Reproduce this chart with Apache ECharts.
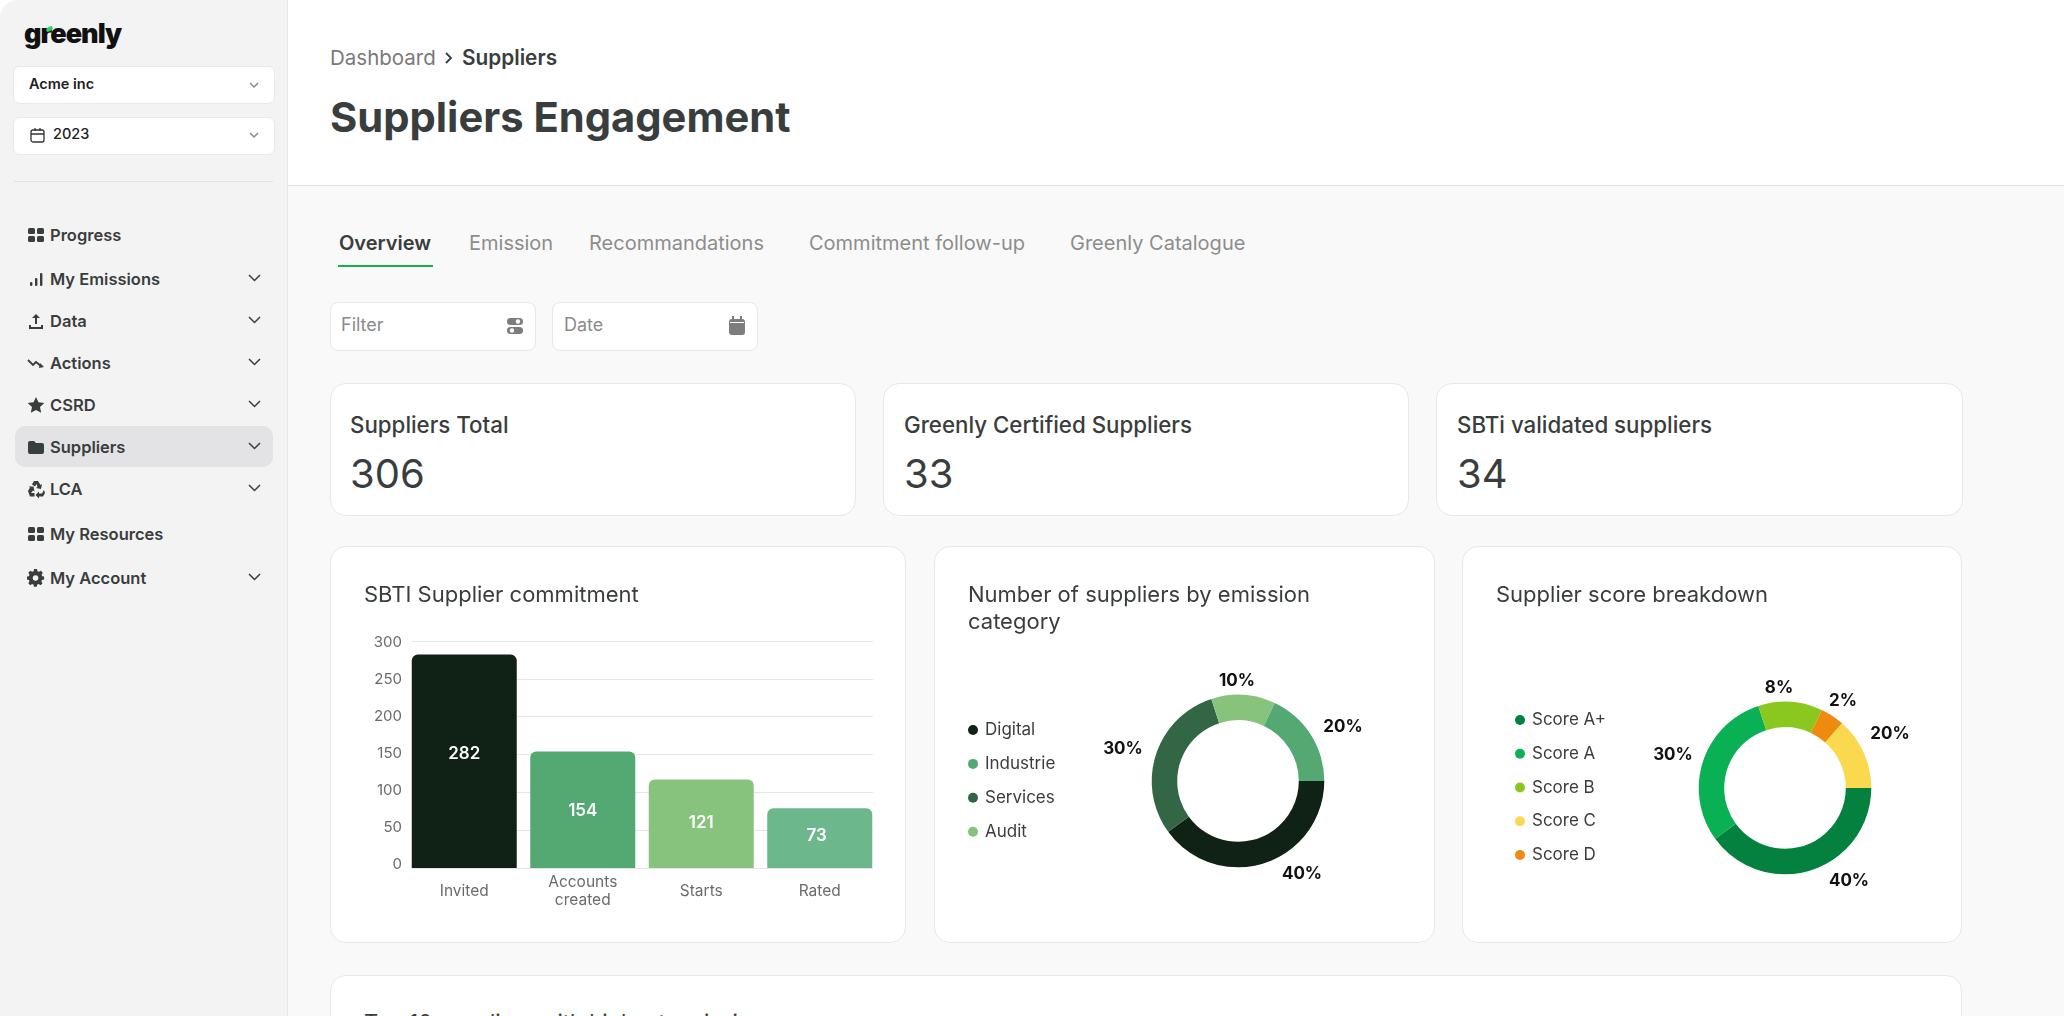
<!DOCTYPE html>
<html>
<head>
<meta charset="utf-8">
<title>Suppliers Engagement</title>
<script src="https://cdn.jsdelivr.net/npm/echarts@6/dist/echarts.min.js"></script>
<style>
    html, body { margin: 0; width: 2064px; height: 1016px; overflow: hidden; background: #fff; }
    body { font-family: Inter, sans-serif; color: #3a3d3e; position: relative; }
    .abs, .t { position: absolute; }
    .t { white-space: nowrap; line-height: 1; transform: translateY(-50%); }
    .sidebar { left: 0; top: 0; width: 287px; height: 1016px; background: #f3f3f3; border-right: 1px solid #e8e8e8; border-top-left-radius: 18px; }
    .main { left: 288px; top: 186px; width: 1776px; height: 830px; background: #f9f9f9; }
    .hline { background: #e2e2e2; height: 1px; }
    .select { left: 13px; width: 260px; height: 36px; background: #fff; border: 1px solid #e9e9e9; border-radius: 7px; }
    .active { left: 15px; top: 426px; width: 258px; height: 41px; background: #e3e3e5; border-radius: 10px; }
    .menu { left: 50px; font-size: 16.5px; font-weight: 600; }
    .tab { top: 243px; font-size: 20px; color: #8d8d8d; }
    .input { top: 302px; width: 204px; height: 47px; background: #fff; border: 1px solid #e8e8e8; border-radius: 8px; }
    .hint { top: 325px; font-size: 18px; color: #8b8b8b; }
    .card { background: #fff; border: 1px solid #e8e8e8; border-radius: 16px; box-sizing: border-box; }
    .kpi-title { top: 425px; font-size: 22.300px; font-weight: 500; }
    .kpi-value { top: 474px; font-size: 40px; }
    .card-title { font-size: 22px; line-height: 27px; white-space: normal; }
    .chart { left: 0; top: 0; width: 100%; height: 100%; }
</style>
</head>
<body>
<div class="abs main"></div>
<div class="abs sidebar"></div>

<div class="t" style="left:24px;top:33px;font-size:27px;font-weight:900;letter-spacing:-1px;color:#111;">greenly</div>
<div class="abs" style="left:46px;top:27px;width:7px;height:4px;background:#2bd45f;border-radius:4px 1px;transform:rotate(-25deg);"></div>

<div class="abs select" style="top:66px;"></div>
<div class="t" style="left:29px;top:84px;font-size:14.5px;font-weight:600;color:#222;">Acme inc</div>
<div class="abs select" style="top:117px;"></div>
<div class="t" style="left:53px;top:134px;font-size:14.5px;font-weight:500;color:#222;">2023</div>
<div class="abs hline" style="left:14px;top:181px;width:259px;"></div>
<div class="abs active"></div>

<div class="abs hline" style="left:288px;top:185px;width:1776px;"></div>
<div class="t" style="left:330px;top:58px;font-size:20.500px;color:#7a7a7a;">Dashboard</div>
<div class="t" style="left:462px;top:58px;font-size:20.800px;font-weight:600;">Suppliers</div>
<div class="t" style="left:330px;top:118px;font-size:41.700px;font-weight:700;">Suppliers Engagement</div>

<div class="t tab" style="left:339px;color:#3a3d3e;font-weight:600;">Overview</div>
<div class="t tab" style="left:469px;">Emission</div>
<div class="t tab" style="left:589px;">Recommandations</div>
<div class="t tab" style="left:809px;">Commitment follow-up</div>
<div class="t tab" style="left:1070px;">Greenly Catalogue</div>
<div class="abs" style="left:338px;top:265px;width:95px;height:2px;background:#16b04d;"></div>

<div class="abs input" style="left:330px;"></div>
<div class="t hint" style="left:341px;">Filter</div>
<div class="abs input" style="left:552px;"></div>
<div class="t hint" style="left:564px;">Date</div>

<div class="abs card" style="left:330px;top:383px;width:526px;height:133px;"></div>
<div class="t kpi-title" style="left:350px;">Suppliers Total</div>
<div class="t kpi-value" style="left:350px;">306</div>
<div class="abs card" style="left:883px;top:383px;width:526px;height:133px;"></div>
<div class="t kpi-title" style="left:904px;">Greenly Certified Suppliers</div>
<div class="t kpi-value" style="left:904px;">33</div>
<div class="abs card" style="left:1436px;top:383px;width:527px;height:133px;"></div>
<div class="t kpi-title" style="left:1457px;">SBTi validated suppliers</div>
<div class="t kpi-value" style="left:1457px;">34</div>

<div class="abs card" style="left:330px;top:546px;width:576px;height:397px;">
    <div id="chartBar" class="abs chart"></div>
    <div class="abs card-title" style="left:33px;top:34px;">SBTI Supplier commitment</div>
</div>
<div class="abs card" style="left:934px;top:546px;width:501px;height:397px;">
    <div id="chartCategory" class="abs chart"></div>
    <div class="abs card-title" style="left:33px;top:34px;width:420px;">Number of suppliers by emission category</div>
</div>
<div class="abs card" style="left:1462px;top:546px;width:500px;height:397px;">
    <div id="chartScore" class="abs chart"></div>
    <div class="abs card-title" style="left:33px;top:34px;">Supplier score breakdown</div>
</div>

<div class="abs card" style="left:330px;top:975px;width:1632px;height:80px;">
    <div class="abs card-title" style="left:33px;top:33px;white-space:nowrap;">Top 10 suppliers with highest emissions</div>
</div>

<div id="menu"></div>

<script>
    // sidebar
    var menuItems = ['Progress', 'My Emissions', 'Data', 'Actions', 'CSRD', 'Suppliers', 'LCA', 'My Resources', 'My Account'];
    var menuRows = [235, 279, 321, 363, 405, 447, 489, 534, 578];
    var menuHasChevron = [false, true, true, true, true, true, true, false, true];

    // SBTI Supplier commitment
    var barCategories = ['Invited', 'Accounts\ncreated', 'Starts', 'Rated'];
    var barHeights = [282, 154, 117, 79];   // the drawn bars do not quite agree with their labels
    var barLabels = [282, 154, 121, 73];
    var barColors = ['#102116', '#54a872', '#88c37e', '#6db78c'];

    // Number of suppliers by emission category, clockwise from 3 o'clock
    var categoryNames = ['Digital', 'Services', 'Audit', 'Industrie'];
    var categoryShares = [40, 30, 12, 18];
    var categoryLabels = ['40%', '30%', '10%', '20%'];
    var categoryColors = ['#102116', '#336645', '#88c37e', '#54a872'];
    var categoryLegend = ['Digital', 'Industrie', 'Services', 'Audit'];

    // Supplier score breakdown, clockwise from 3 o'clock
    var scoreNames = ['Score A+', 'Score A', 'Score B', 'Score D', 'Score C'];
    var scoreShares = [40, 30, 12, 4.5, 13.5];
    var scoreLabels = ['40%', '30%', '8%', '2%', '20%'];
    var scoreColors = ['#04803f', '#0ab154', '#8ac71f', '#ee8a10', '#fbd94f'];
    var scoreLegend = ['Score A+', 'Score A', 'Score B', 'Score C', 'Score D'];

    // little svg icons, nothing fancy
    var gridIcon = '<rect x="1" y="2" width="7" height="6" rx="1.5"/><rect x="10" y="2" width="7" height="6" rx="1.5"/><rect x="1" y="10" width="7" height="6" rx="1.5"/><rect x="10" y="10" width="7" height="6" rx="1.5"/>';
    var icons = {
        'Progress': gridIcon,
        'My Emissions': '<rect x="3" y="12" width="2.4" height="4" rx="1"/><rect x="8" y="8" width="2.4" height="8" rx="1"/><rect x="13" y="3" width="2.4" height="13" rx="1"/>',
        'Data': '<path d="M9 2l4 4h-3v6H8V6H5zM2 13h2v2h10v-2h2v4H2z"/>',
        'Actions': '<path d="M1 6l5 5 3-3 5 4" fill="none" stroke="#3a3d3e" stroke-width="1.8"/><path d="M13 9l4 4-5 1z"/>',
        'CSRD': '<path d="M9 1l2.5 5.3 5.8.7-4.3 4 1.2 5.8L9 14l-5.2 2.8L5 11 .7 7l5.8-.7z"/>',
        'Suppliers': '<path d="M1 5a2 2 0 0 1 2-2h4l2 2h6a2 2 0 0 1 2 2v7a2 2 0 0 1-2 2H3a2 2 0 0 1-2-2z"/>',
        'LCA': '<path d="M7 1h4l2.500 4 1.500-1-1 5-5-1 1.500-1L9.500 4 8 6.500 5 4.500zM1 11l2-3.500-1.500-1 5 0 1 5-1.500-1L4 13h3.500v3.500H3zM17 10l1 3-2 3.500h-4v2l-3.500-3.500L12 11.500v2h3l1-2z"/>',
        'My Resources': gridIcon,
        'My Account': '<path fill-rule="evenodd" d="M7.500 1h3l.5 2.300 1.600.7 2-1.200 2 2.200-1.200 2 .6 1.500L18 9v3l-2.300.5-.6 1.500 1.200 2-2 2-2-1.200-1.600.7-.5 2.300h-3L7 17.500l-1.600-.7-2 1.200-2-2 1.200-2-.6-1.500L0 12V9l2-.5.600-1.500-1.200-2 2-2.200 2 1.200L7 3.300zM9 7.500a3 3 0 1 0 .01 0z" transform="scale(.95) translate(0 -1)"/>'
    };

    function chevron(x, y, w, color) {
        return '<svg class="abs" style="left:' + (x - w / 2) + 'px;top:' + (y - w / 4 - 1) + 'px" width="' + w + '" height="' + (w / 2 + 2) + '">' +
            '<polyline points="1,1 ' + w / 2 + ',' + (w / 2) + ' ' + (w - 1) + ',1" fill="none" stroke="' + color + '" stroke-width="1.500"/></svg>';
    }

    var html = '';
    menuItems.forEach(function (name, i) {
        html += '<svg class="abs" style="left:27px;top:' + (menuRows[i] - 9) + 'px" width="18" height="19" fill="#3a3d3e">' + icons[name] + '</svg>';
        html += '<div class="t menu" style="top:' + menuRows[i] + 'px">' + name + '</div>';
        if (menuHasChevron[i]) {
            html += chevron(254, menuRows[i] - 1, 13, '#3a3d3e');
        }
    });
    html += chevron(254, 85, 10, '#8a8a8a') + chevron(254, 135, 10, '#8a8a8a');
    html += '<svg class="abs" style="left:30px;top:127px" width="15" height="16" fill="none" stroke="#333" stroke-width="1.300"><rect x="1" y="3" width="13" height="12" rx="2"/><path d="M1 7h13M5 1v3M10 1v3"/></svg>';
    html += '<svg class="abs" style="left:444px;top:51px" width="9" height="14" fill="none" stroke="#3a3d3e" stroke-width="1.800"><polyline points="2,2 7,7 2,12"/></svg>';
    // filter + date icons
    html += '<svg class="abs" style="left:506px;top:317px" width="18" height="18" fill="#7d7d7d"><rect x="1" y="1" width="16" height="7" rx="3.500"/><rect x="1" y="10" width="16" height="7" rx="3.500"/><circle cx="12" cy="4.500" r="2.200" fill="#fff"/><circle cx="6" cy="13.500" r="2.200" fill="#fff"/></svg>';
    html += '<svg class="abs" style="left:729px;top:316px" width="16" height="19" fill="#7d7d7d"><rect x="0" y="3" width="16" height="16" rx="3"/><rect x="3" y="0" width="2" height="5"/><rect x="11" y="0" width="2" height="5"/><rect x="1" y="6" width="14" height="1" fill="#fff"/></svg>';
    document.getElementById('menu').innerHTML = html;

    var chartBar = echarts.init(document.getElementById('chartBar'));
    var chartCategory = echarts.init(document.getElementById('chartCategory'));
    var chartScore = echarts.init(document.getElementById('chartScore'));

    var axisFont = { fontFamily: 'Inter', color: '#6b6b6b' };
    var barLabelShift = [[0, -7], [0, 1], [0, -1], [-3, -2]];

    // the bars sit flush with the gridlines, so lines and bars need their own grids,
    // and the tick labels are a little tighter than the lines in the picture
    var optionBar = {
        animation: false,
        grid: [
            { left: 81, top: 94, width: 461, height: 227 },
            { left: 74, top: 94, width: 474, height: 227 },
            { left: 81, top: 95, width: 461, height: 222 }
        ],
        xAxis: [
            { gridIndex: 0, type: 'category', show: false },
            {
                gridIndex: 1,
                type: 'category',
                data: barCategories,
                axisLine: { show: false },
                axisTick: { show: false },
                axisLabel: Object.assign({ fontSize: 15.5, margin: 23, lineHeight: 18, verticalAlign: 'middle', interval: 0 }, axisFont)
            },
            { gridIndex: 2, type: 'category', show: false }
        ],
        yAxis: [
            {
                gridIndex: 0,
                type: 'value', min: 0, max: 300, interval: 50,
                axisLine: { show: false },
                axisTick: { show: false },
                axisLabel: { show: false },
                splitLine: { lineStyle: { color: '#e6e6e6', width: 1 } }
            },
            { gridIndex: 1, type: 'value', min: 0, max: 300, show: false },
            {
                gridIndex: 2,
                type: 'value', min: 0, max: 300, interval: 50,
                axisLine: { show: false },
                axisTick: { show: false },
                splitLine: { show: false },
                axisLabel: Object.assign({ fontSize: 15, margin: 10 }, axisFont)
            }
        ],
        series: [
            {
                type: 'bar',
                xAxisIndex: 1,
                yAxisIndex: 1,
                barWidth: 105,
                data: barHeights.map(function (value, i) {
                    return {
                        value: value,
                        itemStyle: { color: barColors[i], borderRadius: [6, 6, 0, 0] },
                        label: { offset: barLabelShift[i] }
                    };
                }),
                label: {
                    show: true,
                    position: 'inside',
                    fontFamily: 'Inter',
                    fontSize: 17,
                    fontWeight: 600,
                    color: '#fff',
                    formatter: function (p) { return barLabels[p.dataIndex]; }
                }
            }
        ]
    };

    /**
     * Donut shared by the two right hand cards
     */
    function donutOption(names, shares, labels, colors, legendOrder, center, labelOffsets, legendPos) {
        return {
            animation: false,
            color: colors,
            legend: {
                orient: 'vertical',
                left: legendPos[0],
                top: legendPos[1],
                padding: 0,
                itemGap: legendPos[2],
                itemWidth: 10,
                itemHeight: 10,
                icon: 'circle',
                data: legendOrder,
                selectedMode: false,
                textStyle: { fontFamily: 'Inter', fontSize: 17, color: '#3a3d3e', lineHeight: 20, padding: [0, 0, 0, 2] }
            },
            series: [
                {
                    type: 'pie',
                    center: center,
                    radius: [60.8, 86.3],
                    startAngle: 0,
                    clockwise: true,
                    avoidLabelOverlap: false,
                    data: names.map(function (name, i) { return { name: name, value: shares[i] }; }),
                    labelLine: { show: false },
                    label: {
                        show: true,
                        position: 'outside',
                        fontFamily: 'Inter',
                        fontSize: 17,
                        fontWeight: 700,
                        color: '#111',
                        formatter: function (p) { return labels[p.dataIndex]; }
                    },
                    labelLayout: function (p) {
                        return {
                            x: center[0] + labelOffsets[p.dataIndex][0],
                            y: center[1] + labelOffsets[p.dataIndex][1],
                            align: 'center',
                            verticalAlign: 'middle'
                        };
                    }
                }
            ]
        };
    }

    chartBar.setOption(optionBar);
    chartCategory.setOption(donutOption(categoryNames, categoryShares, categoryLabels, categoryColors, categoryLegend,
        [303, 234], [[64, 93], [-115, -32], [-1, -100], [105, -54]], [33, 173, 13.9]));
    chartScore.setOption(donutOption(scoreNames, scoreShares, scoreLabels, scoreColors, scoreLegend,
        [322, 241], [[64, 93], [-112, -33], [-6, -100], [58, -87], [105, -54]], [52, 163, 13.75]));
</script>
</body>
</html>
